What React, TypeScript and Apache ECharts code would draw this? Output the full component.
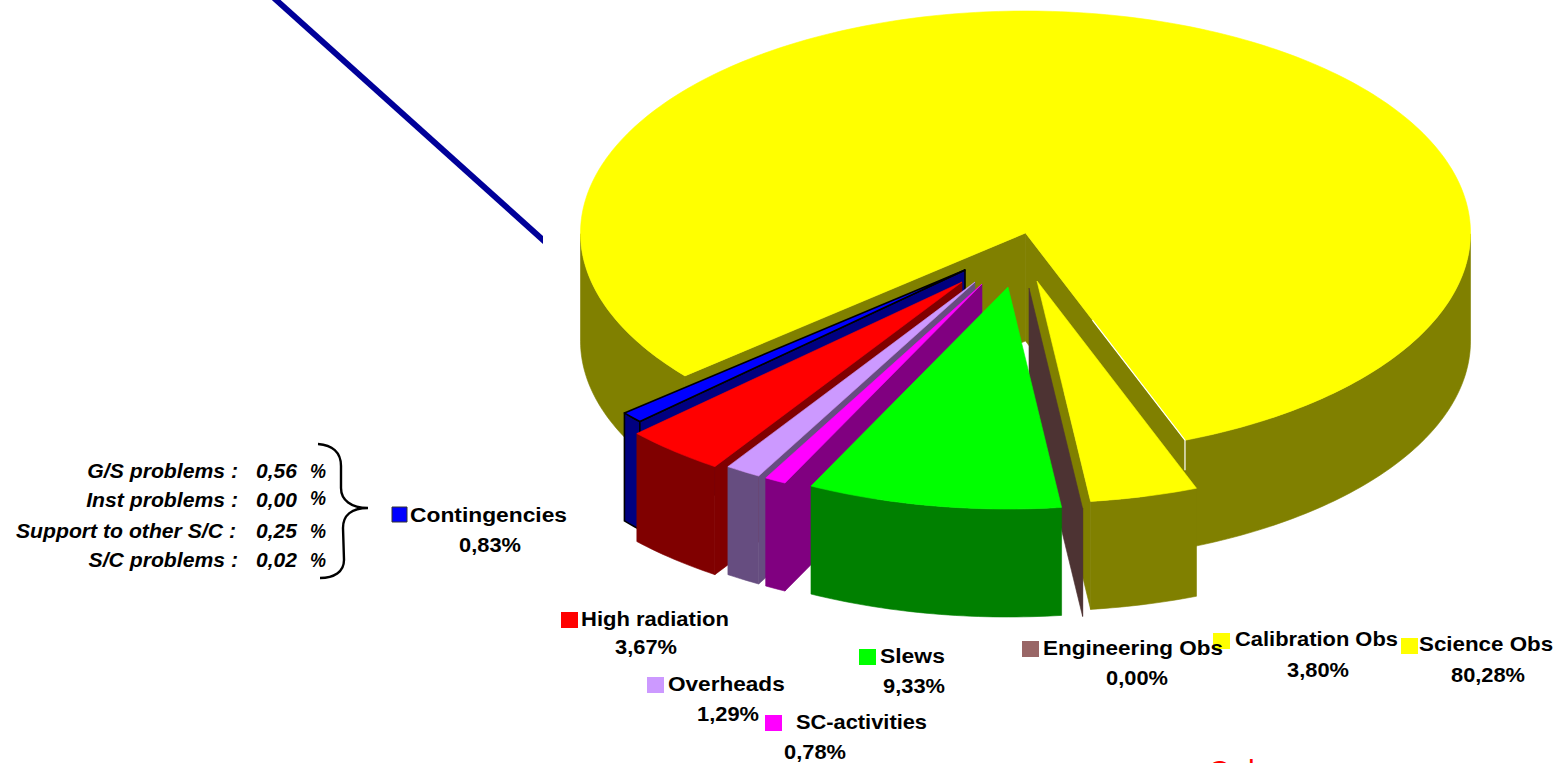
import React, { useEffect, useRef } from "react";
import * as echarts from "echarts";

// ---- data ----
const categories = ["Science Obs", "Contingencies", "High radiation", "Overheads", "SC-activities", "Slews", "Engineering Obs", "Calibration Obs"];
const values = [80.28, 0.83, 3.67, 1.29, 0.78, 9.33, 0.0, 3.8];
const breakdownNames = ["G/S problems :", "Inst problems :", "Support to other S/C :", "S/C problems :"];
const breakdownValues = ["0,56", "0,00", "0,25", "0,02"];

// ---- colours ----
const topColors = ["#ffff00", "#0000ff", "#ff0000", "#cc99ff", "#ff00ff", "#00ff00", "#996666", "#ffff00"];
const sideColors = ["#808000", "#000080", "#800000", "#664d80", "#800080", "#008000", "#4d3333", "#808000"];
const outlineColors = ["", "#000000", "", "", "", "", "", ""];

// ---- layout of the 3D pie ----
const RX = 445;
const RY = 222;
const DEPTH = 108;
const START_ANGLE = -21;
const apexX = [1025.5, 965, 962, 975, 982, 1008, 1029, 1037];
const apexY = [233, 270, 282, 282, 284, 287, 288, 281];
const startShift = [0, 0, 0, 0, 0, 0, 0.4, 0.4];
const endShift = [0, 0, 0, 0, 0, 0.4, 0.4, 0];
const paintOrder = [0, 1, 2, 3, 4, 7, 6, 5];

// ---- layout of the labels ----
const boxX = [1401, 392, 561, 647, 765, 859, 1022, 1213];
const boxY = [638, 507, 612, 677, 715, 649, 641, 633];
const labelX = [1419, 410, 581, 668, 796, 880, 1043, 1235];
const labelY = [644, 515, 619, 684, 722, 656, 648, 639];
const labelScale = [1.064, 1.086, 1.048, 1.076, 1.04, 1.09, 1.071, 1.043];
const valueX = [1488, 490, 646, 728, 815, 914, 1137, 1318];
const valueY = [675, 545, 647, 714, 752, 686, 678, 670];
const rowY = [471, 500, 531, 560];

const FONT = '"Liberation Sans", Arial, sans-serif';

const bracePath = "M318 444 C332 445 341 452 341 466 L341 488 C341 500 351 508 368 508 C351 508 343 516 343 528 L344 560 C344 572 334 578 320 578";
echarts.graphic.registerShape("brace", echarts.graphic.extendPath(bracePath, {}));

const total = values.reduce((s, v) => s + v, 0);
const rad = (d: number) => (d * Math.PI) / 180;
const formatValue = (v: number) => v.toFixed(2).replace(".", ",") + "%";

// angular span of each slice; angle 0 points down the screen, positive goes to the left
function spans() {
  const out: [number, number][] = [];
  let cur = START_ANGLE;
  values.forEach((v, i) => {
    const next = cur - (v / total) * 360;
    out.push([cur + startShift[i], next + endShift[i]]);
    cur = next;
  });
  return out;
}
const sliceSpans = spans();

function renderSlice(_params: any, api: any) {
  const idx = api.value(1) as number;
  const val = api.value(0) as number;
  const [a, b] = sliceSpans[idx];
  const cx = apexX[idx];
  const cy = apexY[idx];
  const pt = (phi: number): number[] => [cx - RX * Math.sin(rad(phi)), cy + RY * Math.cos(rad(phi))];
  const top = topColors[idx];
  const side = sideColors[idx];
  const outline = outlineColors[idx];
  const style = (fill: string) => ({
    fill,
    stroke: outline || fill,
    lineWidth: outline ? 1.6 : 0.6,
    lineJoin: "round",
  });
  const poly = (points: number[][], fill: string) => ({ type: "polygon", shape: { points }, style: style(fill), silent: true });
  const children: any[] = [];

  const steps = Math.max(2, Math.ceil(Math.abs(a - b) / 1));
  const arc: number[] = [];
  for (let i = 0; i <= steps; i++) arc.push(a + ((b - a) * i) / steps);

  // outer wall, only where it faces the viewer
  let seg: number[][] = [];
  const flush = () => {
    if (seg.length > 1) {
      const lower = seg.map((p) => [p[0], p[1] + DEPTH]).reverse();
      children.push(poly(seg.concat(lower), side));
    }
    seg = [];
  };
  arc.forEach((phi) => {
    if (Math.cos(rad(phi)) >= 0) seg.push(pt(phi));
    else flush();
  });
  flush();

  // cut faces
  const cut = (phi: number) => {
    const e = pt(phi);
    children.push(poly([[cx, cy], e, [e[0], e[1] + DEPTH], [cx, cy + DEPTH]], side));
  };
  if (Math.sin(rad(b)) > 0) cut(b);
  if (Math.sin(rad(a)) < 0) cut(a);

  // top face
  if (val > 0) {
    children.push(poly([[cx, cy]].concat(arc.map(pt)), top));
  }

  // fine white edge along the big slice's right-hand cut
  if (idx === 0) {
    const e = pt(a);
    children.push({
      type: "polyline",
      shape: {
        points: [
          [cx + (e[0] - cx) * 0.42, cy + (e[1] - cy) * 0.42],
          e,
          [e[0], e[1] + 30],
        ],
      },
      style: { stroke: "#ffffff", lineWidth: 1.2, fill: "none" },
      silent: true,
    });
  }
  return { type: "group", children };
}

function textEl(text: string, x: number, y: number, opts: any = {}) {
  return {
    type: "text",
    x,
    y,
    scaleX: opts.scaleX ?? 1,
    silent: true,
    style: {
      text,
      fill: opts.fill ?? "#000000",
      font: opts.font ?? `bold 21px ${FONT}`,
      textAlign: opts.align ?? "left",
      textVerticalAlign: opts.vAlign ?? "middle",
    },
  };
}

function buildGraphic() {
  const els: any[] = [];
  // dark blue leader line, cut off at its lower end
  els.push({
    type: "polygon",
    shape: { points: [[271.8, 0], [280.6, 0], [543, 236], [543, 244]] },
    style: { fill: "#000099" },
    silent: true,
  });
  categories.forEach((name, i) => {
    const outlined = !!outlineColors[i];
    els.push({
      type: "rect",
      shape: { x: boxX[i], y: boxY[i], width: outlined ? 15 : 17, height: outlined ? 15 : 16 },
      style: { fill: topColors[i], stroke: outlined ? "#333333" : topColors[i], lineWidth: outlined ? 1 : 0 },
      silent: true,
      z: 5,
    });
    els.push({ ...textEl(name, labelX[i], labelY[i], { scaleX: labelScale[i] }), z: 7 });
    els.push({ ...textEl(formatValue(values[i]), valueX[i], valueY[i], { align: "center", scaleX: 1.04 }), z: 7 });
  });
  const italic = `italic bold 20px ${FONT}`;
  breakdownNames.forEach((name, i) => {
    els.push(textEl(name, i === 2 ? 236 : 238, rowY[i], { align: "right", font: italic, scaleX: 1.06 }));
    els.push(textEl(breakdownValues[i], 256, rowY[i], { font: italic, scaleX: 1.05 }));
    els.push(textEl("%", 310, rowY[i] - (i === 1 ? 2 : 0), { font: italic, scaleX: 0.9 }));
  });
  els.push({
    type: "brace",
    x: 0,
    y: 0,
    silent: true,
    style: { fill: "none", stroke: "#000000", lineWidth: 2.4 },
  });
  // red note, cut off by the page's lower edge
  els.push(textEl("Only", 1208, 785, { font: `30px ${FONT}`, fill: "#ff0000", vAlign: "bottom" }));
  return els;
}

export default function App() {
  const ref = useRef<HTMLDivElement>(null);
  useEffect(() => {
    const chart = echarts.init(ref.current as HTMLDivElement, undefined, { renderer: "svg" });
    chart.setOption({
      animation: false,
      backgroundColor: "#ffffff",
      series: [
        {
          type: "custom",
          coordinateSystem: "none",
          renderItem: renderSlice,
          silent: true,
          clip: false,
          data: paintOrder.map((i) => ({ name: categories[i], value: [values[i], i] })),
        },
      ],
      graphic: { elements: buildGraphic() },
    });
    return () => chart.dispose();
  }, []);
  return <div ref={ref} style={{ position: "fixed", left: 0, top: 0, width: 1555, height: 763, overflow: "hidden" }} />;
}
